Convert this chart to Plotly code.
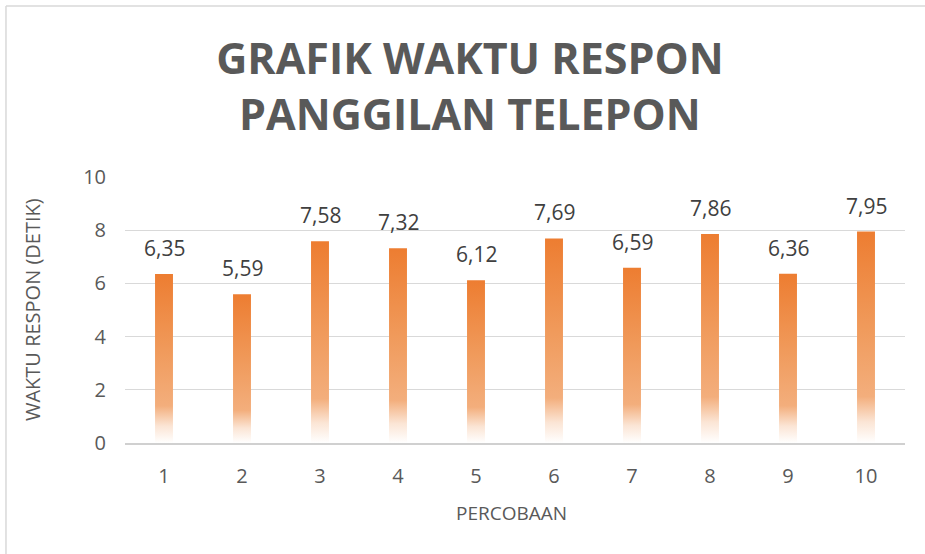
import plotly.graph_objects as go

categories = [1, 2, 3, 4, 5, 6, 7, 8, 9, 10]
values = [6.35, 5.59, 7.58, 7.32, 6.12, 7.69, 6.59, 7.86, 6.36, 7.95]
labels = ["6,35", "5,59", "7,58", "7,32", "6,12", "7,69", "6,59", "7,86", "6,36", "7,95"]
y_ticks = [0, 2, 4, 6, 8, 10]

BAR_HALF = 0.115
grad = [[0.0, "#FFFFFF"], [0.1, "#FBE5D5"], [0.22, "#F3AE7C"], [0.55, "#F09A5B"], [1.0, "#ED7D31"]]

fig = go.Figure()
for c, v in zip(categories, values):
    fig.add_trace(go.Scatter(
        x=[c - BAR_HALF, c + BAR_HALF, c + BAR_HALF, c - BAR_HALF, c - BAR_HALF],
        y=[0, 0, v, v, 0],
        fill="toself", mode="lines", line=dict(width=0),
        fillgradient=dict(type="vertical", colorscale=grad, start=0, stop=v),
        hoverinfo="skip", showlegend=False,
    ))

annotations = []
for c, v, t in zip(categories, values, labels):
    annotations.append(dict(
        x=c, y=v, xref="x", yref="y", text=t, showarrow=False,
        yanchor="middle", xanchor="center", yshift=26,
        font=dict(family="Open Sans", size=21, color="#404040"),
    ))
annotations.append(dict(
    text="WAKTU RESPON (DETIK)", xref="paper", yref="paper", x=-0.1192, y=0.5,
    xanchor="center", yanchor="middle", textangle=-90, showarrow=False,
    font=dict(family="Open Sans", size=20, color="#595959"),
))
annotations.append(dict(
    text="PERCOBAAN", xref="paper", yref="paper", x=0.496, y=-0.263,
    xanchor="center", yanchor="middle", showarrow=False,
    font=dict(family="Open Sans", size=19, color="#595959"),
))

fig.update_layout(
    width=925, height=554,
    margin=dict(l=125, r=20, t=177, b=111),
    paper_bgcolor="white", plot_bgcolor="white",
    title=dict(
        text="GRAFIK WAKTU RESPON<br>PANGGILAN TELEPON",
        x=0.508, xanchor="center", y=0.866, yanchor="middle",
        font=dict(family="Open Sans", size=43, color="#595959", weight="bold"),
    ),
    font=dict(family="Open Sans", color="#595959"),
    xaxis=dict(
        range=[0.5, 10.5], tickmode="array", tickvals=categories,
        ticktext=[str(c) for c in categories], showgrid=False,
        showline=True, linecolor="#D0D0D0", linewidth=1.5, zeroline=False,
        tickfont=dict(size=20, color="#595959"), ticks="", ticklabelstandoff=14,
    ),
    yaxis=dict(
        range=[0, 10], tickmode="array", tickvals=y_ticks,
        showgrid=True, gridcolor="#D9D9D9", gridwidth=1, zeroline=False,
        tickfont=dict(size=20, color="#595959"), ticks="", ticklabelstandoff=18,
    ),
    annotations=annotations,
    shapes=[
        dict(type="line", xref="paper", yref="paper", x0=-0.1526, x1=1.1, y0=1.643, y1=1.643,
             line=dict(color="#D9D9D9", width=1.5)),
        dict(type="line", xref="paper", yref="paper", x0=-0.1526, x1=-0.1526, y0=1.643, y1=-0.5,
             line=dict(color="#D9D9D9", width=1.5)),
    ],
)

fig.write_html("out.html", config={"displayModeBar": False},
               post_script="document.body.style.margin='0px';")
